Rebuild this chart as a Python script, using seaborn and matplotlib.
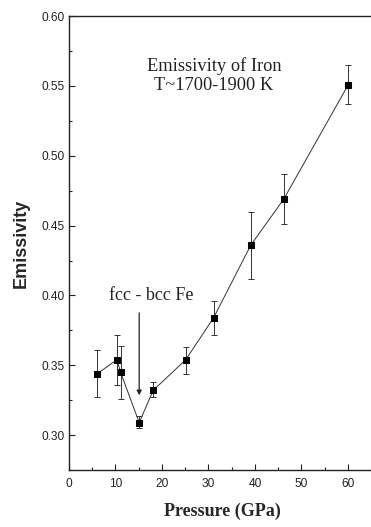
import matplotlib
matplotlib.use("Agg")
import matplotlib.pyplot as plt
from matplotlib.ticker import MultipleLocator
import seaborn as sns
import pandas as pd

pressure = [6.1, 10.3, 11.1, 15.1, 18.1, 25.1, 31.1, 39.1, 46.2, 60.1]
emissivity = [0.344, 0.354, 0.345, 0.309, 0.332, 0.354, 0.384, 0.436, 0.469, 0.551]
err_low = [0.327, 0.336, 0.326, 0.305, 0.327, 0.344, 0.372, 0.412, 0.451, 0.537]
err_high = [0.361, 0.372, 0.364, 0.314, 0.338, 0.363, 0.396, 0.460, 0.487, 0.565]

df = pd.DataFrame({"Pressure": pressure, "Emissivity": emissivity})

sns.set_style("ticks")
plt.rcParams['font.family'] = ['Liberation Sans', 'DejaVu Sans']

fig = plt.figure(figsize=(3.71, 5.27), dpi=100)
ax = fig.add_axes([0.186, 0.108, 0.827, 0.8615])

yerr = [[e - l for e, l in zip(emissivity, err_low)],
        [h - e for e, h in zip(emissivity, err_high)]]
ax.errorbar(pressure, emissivity, yerr=yerr, fmt='none', ecolor='#333333',
            elinewidth=0.7, capsize=2.5, capthick=0.7, zorder=2)
sns.lineplot(data=df, x="Pressure", y="Emissivity", ax=ax, color='#333333',
             lw=0.7, marker='s', markersize=4.6, markerfacecolor='black',
             markeredgecolor='black', sort=False, zorder=3)

ax.set_xlim(0, 66)
ax.set_ylim(0.275, 0.60)
ax.xaxis.set_major_locator(MultipleLocator(10))
ax.xaxis.set_minor_locator(MultipleLocator(5))
ax.yaxis.set_major_locator(MultipleLocator(0.05))
ax.yaxis.set_minor_locator(MultipleLocator(0.025))
ax.yaxis.set_major_formatter(plt.FormatStrFormatter('%.2f'))
ax.tick_params(which='both', direction='in', labelsize=8.6, colors='#222222')
ax.tick_params(which='major', length=4, width=0.8)
ax.tick_params(which='minor', length=2.5, width=0.8)
ax.tick_params(axis='x', pad=6)
for s in ax.spines.values():
    s.set_linewidth(1.0)
    s.set_color('#222222')

ax.set_xlabel("Pressure (GPa)", family=['Liberation Serif'], fontweight='bold',
              fontsize=13, labelpad=9)
ax.set_ylabel("Emissivity", fontweight='bold', fontsize=13, labelpad=8)

ax.text(31.2, 0.5575, "Emissivity of Iron\nT~1700-1900 K", ha='center', va='center',
        family=['Liberation Serif'], fontsize=13.2, linespacing=1.1, color='#222222')
ax.text(17.6, 0.400, "fcc - bcc Fe", ha='center', va='center',
        family=['Liberation Serif'], fontsize=13, color='#222222')
ax.annotate("", xy=(15.1, 0.3285), xytext=(15.1, 0.3875),
            arrowprops=dict(arrowstyle='-|>', color='#222222', lw=0.9,
                            mutation_scale=7, shrinkA=0, shrinkB=0))

fig.savefig("out.png", dpi=100)
